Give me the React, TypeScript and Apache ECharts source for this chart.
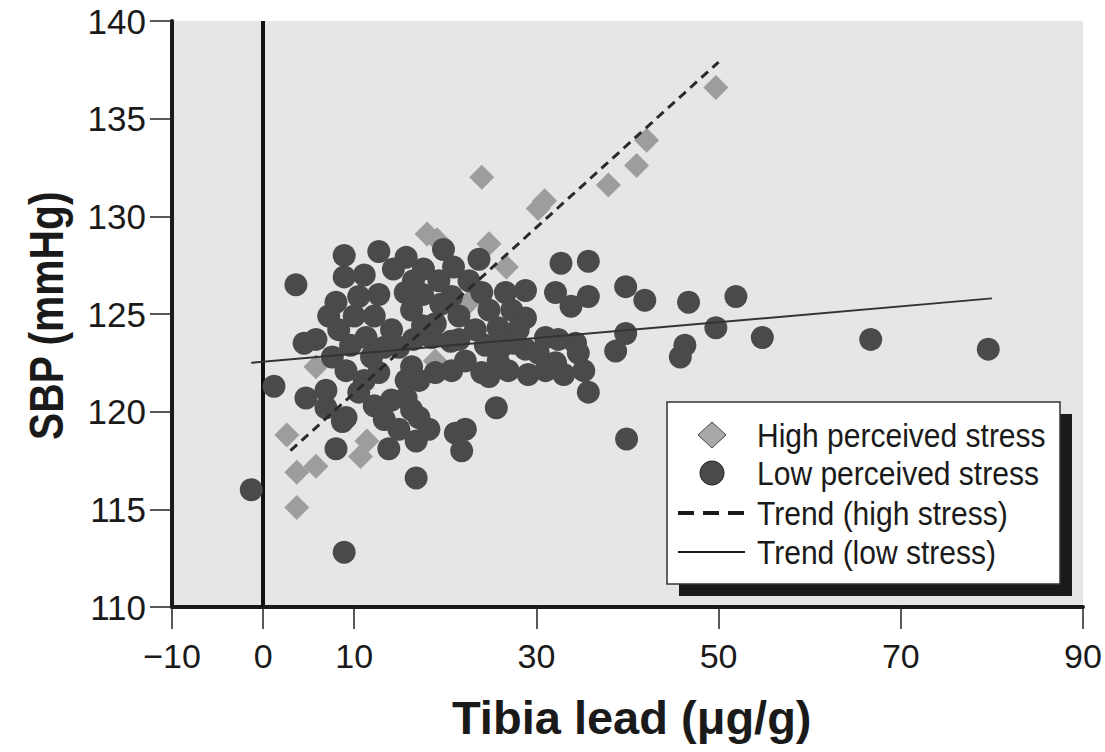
import React, { useEffect, useRef } from "react";
import * as echarts from "echarts";

const xTickValues = [-10, 0, 10, 30, 50, 70, 90];
const yTickValues = [110, 115, 120, 125, 130, 135, 140];

const highStress: number[][] = [
  [49.7, 136.6], [42.1, 133.9], [41.0, 132.6], [37.9, 131.6], [30.9, 130.8],
  [30.2, 130.4], [24.0, 132.0], [18.0, 129.1], [19.1, 128.8], [24.8, 128.6],
  [26.7, 127.4], [22.6, 125.6], [18.9, 122.6], [5.8, 122.3], [2.6, 118.8],
  [3.7, 116.9], [5.8, 117.2], [3.7, 115.1], [11.4, 118.5], [10.7, 117.7],
];

const lowStress: number[][] = [
  [-1.3, 116.0], [8.9, 112.8], [3.6, 126.5], [1.2, 121.3], [4.7, 120.7],
  [8.0, 118.1], [13.8, 118.1], [16.8, 118.5], [16.8, 116.6], [21.1, 118.9],
  [21.8, 118.0], [22.2, 119.1], [25.6, 120.2], [35.7, 121.0], [39.9, 118.6],
  [8.9, 128.0], [8.9, 126.9], [12.7, 128.2], [15.7, 127.9], [19.8, 128.3],
  [23.7, 127.8], [32.7, 127.6], [35.7, 127.7], [39.8, 126.4], [41.9, 125.7],
  [46.7, 125.6], [51.9, 125.9], [49.7, 124.3], [46.3, 123.4], [45.8, 122.8],
  [54.8, 123.8], [66.7, 123.7], [79.6, 123.2], [39.8, 124.0], [38.7, 123.1],
  [35.7, 125.9], [32.1, 126.1], [33.8, 125.4], [28.8, 126.2], [26.6, 126.1],
  [24.0, 126.1], [27.3, 125.2], [28.8, 124.8], [25.8, 124.3], [23.3, 124.2],
  [21.5, 123.7], [31.0, 123.8], [32.4, 123.7], [34.3, 123.5],
  [34.6, 123.0], [32.1, 122.5], [31.0, 122.1], [28.8, 123.2], [25.8, 122.6],
  [24.0, 122.0], [22.2, 122.6], [24.8, 121.8], [16.3, 122.3], [17.1, 121.6],
  [15.7, 120.7], [17.1, 119.7], [18.2, 119.1], [16.5, 126.7], [19.3, 126.7],
  [20.7, 125.9], [18.5, 123.8], [8.0, 125.6], [10.5, 125.9], [12.7, 126.0],
  [16.3, 125.2], [18.9, 124.5], [20.6, 123.6], [5.8, 123.7], [8.3, 124.2],
  [11.3, 123.8], [14.1, 124.2], [7.6, 122.8], [9.1, 122.1], [11.9, 122.8],
  [14.9, 123.3], [18.9, 122.0], [6.9, 121.1], [6.9, 120.2], [9.1, 119.7],
  [10.5, 121.0], [12.7, 122.0], [14.1, 120.6], [15.7, 121.6], [16.3, 120.1],
  [20.7, 122.1], [8.7, 119.5], [14.3, 127.3], [12.2, 124.9],
  [10.0, 124.9], [21.5, 124.9], [13.3, 119.6], [14.9, 119.1],
  [27.5, 123.5], [26.9, 122.1], [29.1, 121.9], [11.1, 127.0],
  [7.2, 124.9], [9.6, 123.4], [13.3, 123.3], [15.6, 126.1], [17.5, 126.0],
  [19.5, 125.5], [17.6, 127.3], [20.9, 127.4], [22.6, 126.7], [17.5, 124.4],
  [16.5, 123.7], [24.8, 125.2], [24.4, 123.4], [26.4, 123.4], [28.0, 124.2],
  [30.2, 123.0], [33.0, 121.9], [35.2, 122.1], [12.2, 120.3], [11.1, 121.6],
  [4.5, 123.5],
];

const trendHigh: number[][] = [[3.0, 118.0], [50.0, 137.9]];
const trendLow: number[][] = [[-1.3, 122.5], [80.0, 125.8]];

const legendLabels = [
  "High perceived stress",
  "Low perceived stress",
  "Trend (high stress)",
  "Trend (low stress)",
];

const FONT = "'Liberation Sans', Arial, sans-serif";

export default function App() {
  const ref = useRef<HTMLDivElement>(null);
  useEffect(() => {
    if (!ref.current) return;
    const chart = echarts.init(ref.current, null, { renderer: "svg" });
    const lx = 667;
    const ly = 402;
    const rowY = [435, 473, 513, 552];
    const option: any = {
      animation: false,
      backgroundColor: "#ffffff",
      grid: {
        left: 172,
        top: 21,
        width: 911,
        height: 586,
        show: true,
        backgroundColor: "#e6e6e6",
        borderWidth: 0,
      },
      xAxis: {
        type: "value",
        min: -10,
        max: 90,
        interval: 10,
        splitLine: { show: false },
        axisLine: { show: true, onZero: false, lineStyle: { color: "#1a1a1a", width: 4 } },
        axisTick: { show: true, length: 22, customValues: xTickValues, lineStyle: { color: "#222", width: 1.5 } },
        axisLabel: {
          customValues: xTickValues,
          margin: 32,
          fontSize: 34,
          fontFamily: FONT,
          color: "#1a1a1a",
          formatter: (v: number) => (v < 0 ? "\u2212" + Math.abs(v) : String(v)),
        },
      },
      yAxis: {
        type: "value",
        min: 110,
        max: 140,
        interval: 5,
        splitLine: { show: false },
        axisLine: { show: true, onZero: false, lineStyle: { color: "#1a1a1a", width: 4 } },
        axisTick: { show: true, length: 22, lineStyle: { color: "#222", width: 1.5 } },
        axisLabel: {
          customValues: yTickValues,
          margin: 26,
          fontSize: 35,
          fontFamily: FONT,
          color: "#1a1a1a",
        },
      },
      series: [
        {
          name: "High perceived stress",
          type: "scatter",
          data: highStress,
          symbol: "diamond",
          symbolSize: 25,
          itemStyle: { color: "#9d9d9d", opacity: 1 },
          z: 2,
          markLine: {
            silent: true,
            symbol: ["none", "none"],
            label: { show: false },
            lineStyle: { color: "#111", width: 4, type: "solid" },
            data: [{ xAxis: 0 }],
            z: 1,
          },
        },
        {
          name: "Low perceived stress",
          type: "scatter",
          data: lowStress,
          symbol: "circle",
          symbolSize: 23,
          itemStyle: { color: "#4a4a4a", opacity: 1 },
          z: 3,
        },
        {
          name: "Trend (high stress)",
          type: "line",
          data: trendHigh,
          symbol: "none",
          lineStyle: { color: "#2a2a2a", width: 3, type: [9, 6] },
          z: 4,
        },
        {
          name: "Trend (low stress)",
          type: "line",
          data: trendLow,
          symbol: "none",
          lineStyle: { color: "#333", width: 2 },
          z: 4,
        },
      ],
      graphic: [
        {
          type: "text",
          left: 452,
          top: 694,
          style: { text: "Tibia lead (\u03bcg/g)", font: `bold 47px ${FONT}`, fill: "#1a1a1a" },
        },
        {
          type: "text",
          x: 22,
          y: 440,
          rotation: Math.PI / 2,
          scaleX: 0.85,
          style: { text: "SBP (mmHg)", font: `bold 48px ${FONT}`, fill: "#1a1a1a" },
        },
        {
          type: "rect",
          shape: { x: lx + 12, y: ly + 12, width: 393, height: 182 },
          style: { fill: "#1a1a1a" },
          z: 100,
        },
        {
          type: "rect",
          shape: { x: lx, y: ly, width: 393, height: 182 },
          style: { fill: "#ffffff", stroke: "#333", lineWidth: 1.5 },
          z: 101,
        },
        {
          type: "polygon",
          shape: { points: [[712, rowY[0] - 13], [726, rowY[0]], [712, rowY[0] + 13], [698, rowY[0]]] },
          style: { fill: "#a8a8a8", stroke: "#444", lineWidth: 1 },
          z: 102,
        },
        {
          type: "circle",
          shape: { cx: 712, cy: rowY[1], r: 12 },
          style: { fill: "#4a4a4a", stroke: "#222", lineWidth: 1 },
          z: 102,
        },
        {
          type: "line",
          shape: { x1: 678, y1: rowY[2], x2: 745, y2: rowY[2] },
          style: { stroke: "#1a1a1a", lineWidth: 4, lineDash: [16, 9] },
          z: 102,
        },
        {
          type: "line",
          shape: { x1: 678, y1: rowY[3], x2: 745, y2: rowY[3] },
          style: { stroke: "#1a1a1a", lineWidth: 2 },
          z: 102,
        },
        ...legendLabels.map((t, i) => ({
          type: "text",
          x: 757,
          y: rowY[i],
          scaleX: 0.91,
          style: { text: t, font: `33px ${FONT}`, fill: "#1a1a1a", verticalAlign: "middle" },
          z: 102,
        })),
      ],
    };
    chart.setOption(option);
    return () => chart.dispose();
  }, []);
  return (
    <div
      ref={ref}
      style={{ position: "fixed", left: 0, top: 0, width: 1105, height: 752, background: "#fff" }}
    />
  );
}
